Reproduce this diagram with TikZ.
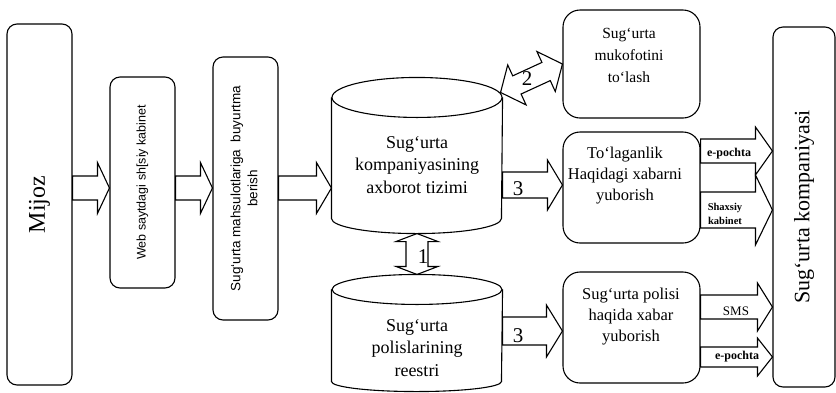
\documentclass[tikz,border=0pt]{standalone}
\usepackage{fontspec}
\setmainfont{Liberation Serif}
\setsansfont{Liberation Sans}
\usetikzlibrary{calc}
\begin{document}
\begin{tikzpicture}[x=1pt,y=-1pt,line width=1.1pt,line join=miter,
  rb/.style={draw, rounded corners=10pt, inner sep=0pt},
  rbig/.style={draw, rounded corners=17pt, inner sep=0pt, minimum width=137pt, minimum height=#1},
  cyl/.style={inner sep=0pt, minimum width=170pt, minimum height=#1},
  sarr/.style n args={3}{to path={let \p1=(\tikztostart), \p2=(\tikztotarget), \n1={atan2(\y2-\y1,\x2-\x1)} in
    ($(\p1)+(\n1+90:#1)$) -- ($(\p2)+(\n1:-#3)+(\n1+90:#1)$) -- ($(\p2)+(\n1:-#3)+(\n1+90:#2)$) -- (\p2)
    -- ($(\p2)+(\n1:-#3)+(\n1-90:#2)$) -- ($(\p2)+(\n1:-#3)+(\n1-90:#1)$) -- ($(\p1)+(\n1-90:#1)$) -- cycle}},
  darr/.style n args={3}{to path={let \p1=(\tikztostart), \p2=(\tikztotarget), \n1={atan2(\y2-\y1,\x2-\x1)} in
    (\p1) -- ($(\p1)+(\n1:#3)+(\n1+90:#2)$) -- ($(\p1)+(\n1:#3)+(\n1+90:#1)$) -- ($(\p2)+(\n1:-#3)+(\n1+90:#1)$)
    -- ($(\p2)+(\n1:-#3)+(\n1+90:#2)$) -- (\p2) -- ($(\p2)+(\n1:-#3)+(\n1-90:#2)$) -- ($(\p2)+(\n1:-#3)+(\n1-90:#1)$)
    -- ($(\p1)+(\n1:#3)+(\n1-90:#1)$) -- ($(\p1)+(\n1:#3)+(\n1-90:#2)$) -- cycle}},
  cyltext/.style={align=center, font=\fontsize{18}{22.5}\selectfont},
  boxtext/.style={align=center, font=\fontsize{16.5}{21}\selectfont},
  num/.style={font=\fontsize{21}{22}\selectfont},
  small/.style={font=\bfseries\fontsize{12}{13}\selectfont}
]
\useasboundingbox (0,0) rectangle (836,392);

% left column boxes
\node[rb, minimum width=65pt, minimum height=361pt] (mijoz) at (39.5,204.5)
  {\rotatebox{90}{\fontsize{24}{28}\selectfont Mijoz}};
\node[rb, minimum width=65pt, minimum height=211pt] (web) at (142.5,182.5)
  {\rotatebox{90}{\sffamily\fontsize{12.5}{15}\selectfont Web saytdagi sh[siy kabinet}};
\node[rb, minimum width=65pt, minimum height=263pt] (buy) at (245.5,188.5)
  {\rotatebox{90}{\sffamily\fontsize{13.5}{17}\selectfont\begin{tabular}{@{}c@{}}Sug‘urta mahsulotlariga\ \ buyurtma\\ berish\end{tabular}}};

% cylinders
\node[cyl=155pt] (cyl1) at (417,155.5) {};
\draw ($(cyl1.north west)+(0,20)$) -- ($(cyl1.south west)+(0,-15)$)
  arc[start angle=180, end angle=360, x radius=85pt, y radius=15pt] -- ($(cyl1.north east)+(0,20)$);
\draw ($(cyl1.north)+(0,20)$) ellipse[x radius=85pt, y radius=20pt];
\node[cyltext] (cyl1t) at (417,165) {Sug‘urta\\kompaniyasining\\axborot tizimi};

\node[cyl=116pt] (cyl2) at (417,333) {};
\draw ($(cyl2.north west)+(0,15)$) -- ($(cyl2.south west)+(0,-10)$)
  arc[start angle=180, end angle=360, x radius=85pt, y radius=10pt] -- ($(cyl2.north east)+(0,15)$);
\draw ($(cyl2.north)+(0,15)$) ellipse[x radius=85pt, y radius=15pt];
\node[cyltext] (cyl2t) at (417,348) {Sug‘urta\\polislarining\\reestri};

% middle-right boxes
\node[rbig=108pt] (muk) at (631.5,64) {};
\node[align=center, font=\fontsize{15.5}{22}\selectfont] (mukt) at (629,55) {Sug‘urta\\mukofotini\\to‘lash};
\node[rbig=111pt] (tol) at (631.5,187.5) {};
\node[boxtext] (tolt) at (625,176) {To‘laganlik\\Haqidagi xabarni\\yuborish};
\node[rbig=111pt] (pol) at (631.5,327.5) {};
\node[boxtext] (polt) at (631,317) {Sug‘urta polisi\\haqida xabar\\yuborish};

% company
\node[rb, minimum width=62pt, minimum height=360pt] (comp) at (804,207)
  {\rotatebox{90}{\fontsize{22}{26}\selectfont Sug‘urta kompaniyasi}};

% block arrows left to right
\draw (mijoz.east |- 0,188) to[sarr={12pt}{25.5pt}{12pt}] (web.west |- 0,188);
\draw (web.east |- 0,188) to[sarr={12pt}{25.5pt}{12pt}] (buy.west |- 0,188);
\draw (buy.east |- 0,188) to[sarr={12pt}{25.5pt}{15pt}] (cyl1.west |- 0,188);
\draw (cyl1.east |- 0,185) to[sarr={13pt}{25pt}{15pt}] (tol.west |- 0,185);
\draw (cyl2.east |- 0,331) to[sarr={14pt}{26pt}{16pt}] (pol.west |- 0,331);

% double arrows
\draw ($(cyl1.north east)+(-2,15)$) to[darr={10pt}{22pt}{18pt}] (muk.west);
\draw (cyl1.south) to[darr={11pt}{21pt}{8pt}] (cyl2.north);

% arrows to the company
\draw (tol.east |- 0,151) to[sarr={12pt}{24pt}{17pt}] (comp.west |- 0,151);
\draw (tol.east |- 0,210) to[sarr={18pt}{35pt}{17pt}] (comp.west |- 0,210);
\draw (pol.east |- 0,307) to[sarr={12pt}{24pt}{15pt}] (comp.west |- 0,307);
\draw (pol.east |- 0,357) to[sarr={10pt}{19pt}{15pt}] (comp.west |- 0,357);

% labels
\node[num] (n2) at (527,79) {2};
\node[num] (n1) at (423,257) {1};
\node[num] (n3a) at (518,189) {3};
\node[num] (n3b) at (518,336) {3};
\node[small] (ep1) at (729,154) {e-pochta};
\node[align=center, font=\bfseries\fontsize{10.5}{13.5}\selectfont] (shk) at (725,214) {Shaxsiy\\kabinet};
\node[font=\fontsize{13}{14}\selectfont] (sms) at (736,311) {SMS};
\node[small] (ep2) at (737,357) {e-pochta};
\end{tikzpicture}
\end{document}
